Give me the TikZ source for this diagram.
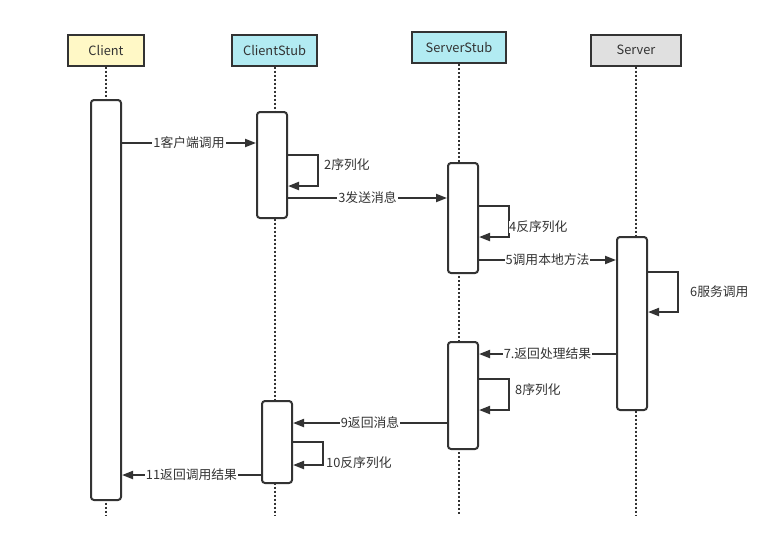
\documentclass[tikz,border=0pt]{standalone}
\usepackage{fontspec}
\setmainfont{Noto Sans CJK SC}
\usetikzlibrary{arrows.meta}
\definecolor{ink}{HTML}{333333}
\definecolor{cyel}{HTML}{FFF8C6}
\definecolor{ccyan}{HTML}{B2EBF2}
\definecolor{cgray}{HTML}{E0E0E0}
\tikzset{
  hdr/.style={draw=ink, line width=2pt, minimum height=31pt, inner sep=0pt, font=\fontsize{12.8}{14}\selectfont, text=ink},
  act/.style={draw=ink, fill=white, line width=2pt, rounded corners=3pt, minimum width=30pt, inner sep=0pt},
  life/.style={draw=ink, line width=2pt, dash pattern=on 2pt off 2pt},
  msg/.style={draw=ink, line width=2pt, -{Triangle[length=11pt,width=8pt]}},
  lbl/.style={fill=white, inner sep=1pt, text=ink, font=\fontsize{12.8}{14}\selectfont},
  slbl/.style={inner sep=0pt, anchor=west, text=ink, font=\fontsize{12.8}{14}\selectfont},
}
\begin{document}
\begin{tikzpicture}[x=1pt,y=-1pt]
\useasboundingbox (0,0) rectangle (772,550);
% headers
\node[hdr, fill=cyel, minimum width=76pt] (client) at (106,50) {Client};
\node[hdr, fill=ccyan, minimum width=85pt] (cstub) at (274.5,50) {ClientStub};
\node[hdr, fill=ccyan, minimum width=94pt] (sstub) at (459,47.5) {ServerStub};
\node[hdr, fill=cgray, minimum width=90pt] (server) at (636,50) {Server};
% lifeline ends
\coordinate (clientEnd) at (106,515);
\coordinate (cstubEnd) at (274.5,515);
\coordinate (sstubEnd) at (459,515);
\coordinate (serverEnd) at (636,515);
\draw[life] (client.south) -- (clientEnd);
\draw[life] (cstub.south) -- (cstubEnd);
\draw[life] (sstub.south) -- (sstubEnd);
\draw[life] (server.south) -- (serverEnd);
% activations
\node[act, minimum height=400pt] (a1) at (106,300) {};
\node[act, minimum height=106pt] (a2) at (272,165) {};
\node[act, minimum height=110pt] (a3) at (463,218) {};
\node[act, minimum height=173pt] (a4) at (632,323.5) {};
\node[act, minimum height=107pt] (a5) at (463,395.5) {};
\node[act, minimum height=82pt] (a6) at (277,442) {};
% messages
\draw[msg] (a1.east |- 0,143) -- node[lbl, pos=0.5] (m1) {1客户端调用} (a2.west |- 0,143);
\draw[msg] (a2.east |- 0,155) -- ++(30,0) |- (a2.east |- 0,186);
\node[slbl] (m2) at (324,165) {2序列化};
\draw[msg] (a2.east |- 0,198) -- node[lbl, pos=0.5] (m3) {3发送消息} (a3.west |- 0,198);
\draw[msg] (a3.east |- 0,206) -- ++(30,0) |- (a3.east |- 0,237);
\node[slbl, fill=white, inner sep=0.5pt] (m4) at (508.5,227) {4反序列化};
\draw[msg] (a3.east |- 0,260) -- node[lbl, pos=0.5] (m5) {5调用本地方法} (a4.west |- 0,260);
\draw[msg] (a4.east |- 0,272) -- ++(30,0) |- (a4.east |- 0,312);
\node[slbl] (m6) at (690,292) {6服务调用};
\draw[msg] (a4.west |- 0,354) -- node[lbl, pos=0.5] (m7) {7.返回处理结果} (a5.east |- 0,354);
\draw[msg] (a5.east |- 0,379) -- ++(30,0) |- (a5.east |- 0,410);
\node[slbl] (m8) at (515,390) {8序列化};
\draw[msg] (a5.west |- 0,423) -- node[lbl, pos=0.5] (m9) {9返回消息} (a6.east |- 0,423);
\draw[msg] (a6.east |- 0,442) -- ++(30,0) |- (a6.east |- 0,465);
\node[slbl] (m10) at (326,463) {10反序列化};
\draw[msg] (a6.west |- 0,475) -- node[lbl, pos=0.5] (m11) {11返回调用结果} (a1.east |- 0,475);
\end{tikzpicture}
\end{document}
